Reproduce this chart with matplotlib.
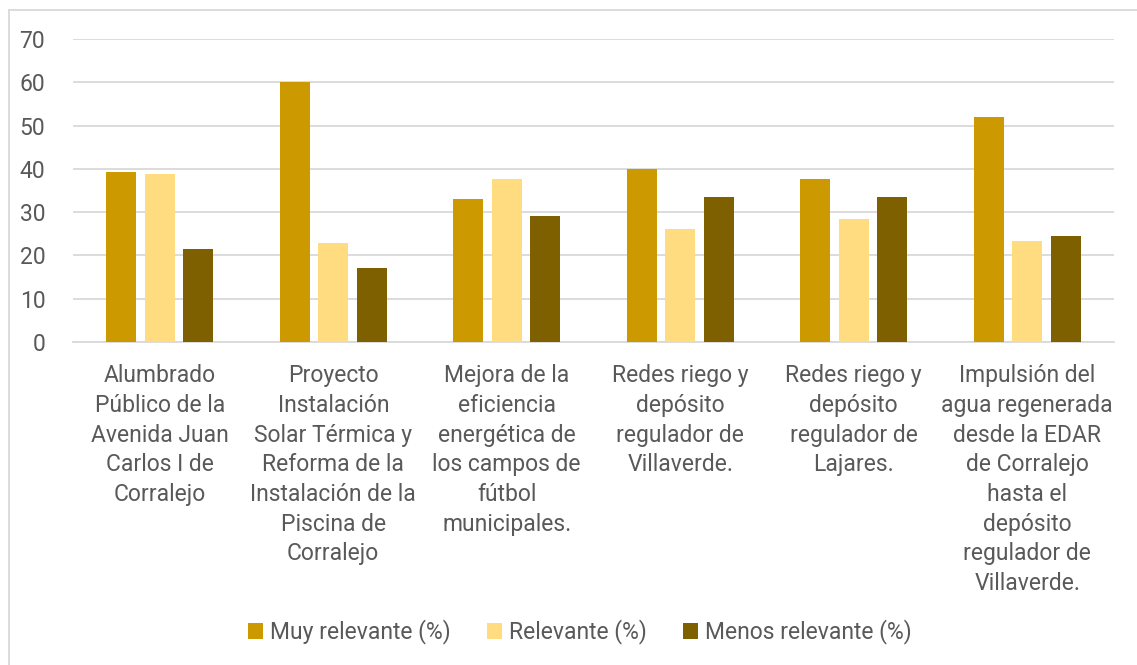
import matplotlib.pyplot as plt
import numpy as np
from matplotlib.lines import Line2D

plt.rcParams["font.family"] = ["Roboto", "DejaVu Sans"]

categories = [
    "Alumbrado\nPúblico de la\nAvenida Juan\nCarlos I de\nCorralejo",
    "Proyecto\nInstalación\nSolar Térmica y\nReforma de la\nInstalación de la\nPiscina de\nCorralejo",
    "Mejora de la\neficiencia\nenergética de\nlos campos de\nfútbol\nmunicipales.",
    "Redes riego y\ndepósito\nregulador de\nVillaverde.",
    "Redes riego y\ndepósito\nregulador de\nLajares.",
    "Impulsión del\nagua regenerada\ndesde la EDAR\nde Corralejo\nhasta el\ndepósito\nregulador de\nVillaverde.",
]
muy_relevante = [39.3, 60.0, 33.1, 40.0, 37.7, 52.0]
relevante = [38.7, 22.8, 37.7, 26.2, 28.5, 23.4]
menos_relevante = [21.6, 17.1, 29.1, 33.6, 33.6, 24.5]

series = [
    ("Muy relevante (%)", muy_relevante, "#CC9A00"),
    ("Relevante (%)", relevante, "#FFDC80"),
    ("Menos relevante (%)", menos_relevante, "#7F6000"),
]

TEXT = "#595959"
GRID = "#D9D9D9"
FS = 16.5

fig = plt.figure(figsize=(11.37, 6.65), dpi=100)
ax = fig.add_axes([73 / 1137, 1 - 342 / 665, (1114 - 73) / 1137, (342 - 39) / 665])

x = np.arange(len(categories))
width = 0.173
step = 0.222
for i, (name, vals, color) in enumerate(series):
    ax.bar(x + (i - 1) * step, vals, width, color=color, label=name, zorder=3)

ax.set_xlim(-0.5, len(categories) - 0.5)
ax.set_ylim(0, 70)
ax.set_yticks(range(0, 71, 10))
ax.yaxis.grid(True, color=GRID, linewidth=1.3, zorder=0)
ax.set_xticks(x)
ax.set_xticklabels(categories, linespacing=1.37)
ax.tick_params(axis="both", length=0, colors=TEXT, labelsize=FS)
ax.tick_params(axis="x", pad=16)
ax.tick_params(axis="y", pad=20)
for s in ["top", "right", "left"]:
    ax.spines[s].set_visible(False)
ax.spines["bottom"].set_color(GRID)
ax.spines["bottom"].set_linewidth(1.3)

leg = fig.legend(loc="center", bbox_to_anchor=(580 / 1137, 1 - 632 / 665), ncol=3,
                 frameon=False, fontsize=FS, handlelength=0.65, handleheight=0.65,
                 handletextpad=0.3, columnspacing=1.6)
for t in leg.get_texts():
    t.set_color(TEXT)

# chart border (only top and left visible in crop)
fig.add_artist(Line2D([9 / 1137, 9 / 1137], [0, 1 - 10 / 665], transform=fig.transFigure,
                      color=GRID, linewidth=1.3))
fig.add_artist(Line2D([9 / 1137, 1], [1 - 10 / 665, 1 - 10 / 665], transform=fig.transFigure,
                      color=GRID, linewidth=1.3))

fig.savefig("out.png", dpi=100)
